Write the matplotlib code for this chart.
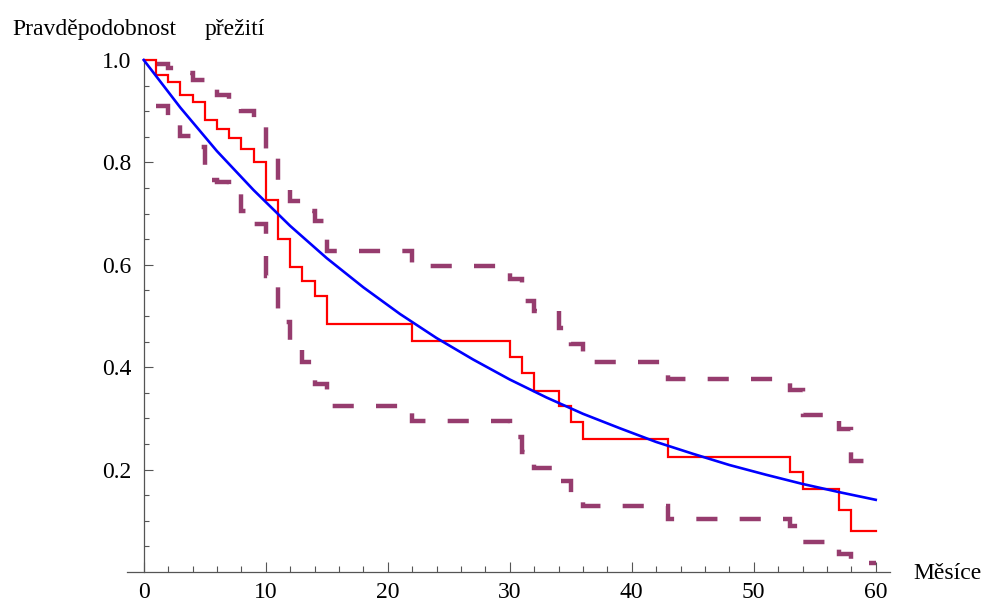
import matplotlib
matplotlib.use("Agg")
import matplotlib.pyplot as plt
from matplotlib.ticker import FixedLocator

# ---- data ----
km_times = [0, 1, 2, 3, 4, 5, 6, 7, 8, 9, 10, 11, 12, 13, 14, 15, 22, 30, 31, 32, 34, 35, 36, 43, 53, 54, 57, 58]
km_surv = [1.0, 0.971, 0.958, 0.932, 0.918, 0.883, 0.866, 0.847, 0.826, 0.801, 0.727, 0.650, 0.596,
           0.569, 0.540, 0.484, 0.452, 0.420, 0.388, 0.354, 0.325, 0.292, 0.260, 0.225, 0.195, 0.162,
           0.121, 0.081]
end_time = 60

ci_times = [1, 2, 3, 4, 5, 6, 7, 8, 9, 10, 11, 12, 13, 14, 15, 22, 30, 31, 32, 34, 35, 36, 43, 53, 54, 57, 58]
ci_upper = [0.992, 0.984, 0.975, 0.961, 0.948, 0.932, 0.915, 0.900, 0.869, 0.827, 0.766, 0.725, 0.705,
            0.686, 0.626, 0.597, 0.572, 0.530, 0.510, 0.476, 0.445, 0.411, 0.376, 0.355, 0.307, 0.280, 0.217]
ci_lower = [0.911, 0.880, 0.852, 0.830, 0.765, 0.762, 0.740, 0.705, 0.680, 0.578, 0.489, 0.439, 0.410,
            0.367, 0.324, 0.294, 0.264, 0.234, 0.203, 0.178, 0.154, 0.128, 0.103, 0.090, 0.059, 0.035, 0.017]

fit_times = [0, 3, 6, 9, 12, 15, 18, 21, 24, 27, 30, 33, 36, 39, 42, 45, 48, 51, 54, 57, 60]
fit_surv = [1.000, 0.907, 0.822, 0.746, 0.676, 0.613, 0.556, 0.504, 0.457, 0.415, 0.376, 0.341,
            0.309, 0.281, 0.254, 0.231, 0.209, 0.190, 0.172, 0.156, 0.141]

x_major = [0, 10, 20, 30, 40, 50, 60]
x_minor = [t for t in range(0, 61, 2) if t % 10 != 0]
y_major = [0.2, 0.4, 0.6, 0.8, 1.0]
y_major_labels = ["0.2", "0.4", "0.6", "0.8", "1.0"]
y_minor = [k * 0.05 for k in range(1, 20) if k % 4 != 0]

ylabel_parts = ["Pravděpodobnost", "přežití"]
xlabel = "Měsíce"

# ---- style ----
plt.rcParams['font.family'] = ['Liberation Serif', 'DejaVu Serif']
plt.rcParams['lines.scale_dashes'] = False
FS = 17
axis_col = '#555555'
purple = '#963c6e'

W, H = 983, 609
fig = plt.figure(figsize=(W / 100, H / 100), dpi=100)
ax = fig.add_axes([127.4 / W, 1 - 572 / H, (890 - 127.4) / W, 512 / H])

ax.set_xlim(-1.34, 61.17)
ax.set_ylim(0, 1.0)

dash = (0, (15.2, 16.0))
ax.step(ci_times + [end_time], ci_upper + [ci_upper[-1]], where='post', color=purple, lw=3.2,
        linestyle=dash, dash_capstyle='butt', dash_joinstyle='miter', clip_on=False, zorder=2)
ax.step(ci_times + [end_time], ci_lower + [ci_lower[-1]], where='post', color=purple, lw=3.2,
        linestyle=dash, dash_capstyle='butt', dash_joinstyle='miter', clip_on=False, zorder=2)
ax.step(km_times + [end_time], km_surv + [km_surv[-1]], where='post', color='#ff0000', lw=1.6,
        solid_joinstyle='miter', clip_on=False, zorder=3)
ax.plot(fit_times, fit_surv, color='#0000ff', lw=1.9, clip_on=False, zorder=4)

for s in ['top', 'right']:
    ax.spines[s].set_visible(False)
ax.spines['left'].set_position(('data', 0))
ax.spines['bottom'].set_position(('data', 0))
ax.spines['left'].set_bounds(0, 1.0)
for s in ['left', 'bottom']:
    ax.spines[s].set_color(axis_col)
    ax.spines[s].set_linewidth(0.9)

ax.xaxis.set_major_locator(FixedLocator(x_major))
ax.xaxis.set_minor_locator(FixedLocator(x_minor))
ax.set_xticklabels([str(v) for v in x_major])
ax.yaxis.set_major_locator(FixedLocator(y_major))
ax.yaxis.set_minor_locator(FixedLocator(y_minor))
ax.set_yticklabels(y_major_labels)

ax.tick_params(which='both', direction='in', color=axis_col, width=0.8, labelsize=FS, labelcolor='black')
ax.tick_params(axis='x', which='major', length=7.2, pad=7)
ax.tick_params(axis='x', which='minor', length=4.3)
ax.tick_params(axis='y', which='major', length=6.5, pad=9)
ax.tick_params(axis='y', which='minor', length=3.8)
ax.patch.set_visible(False)

fig.text(12 / W, 1 - 35 / H, ylabel_parts[0], fontsize=FS, ha='left', va='baseline')
fig.text(205 / W, 1 - 35 / H, ylabel_parts[1], fontsize=FS, ha='left', va='baseline')
fig.text(913 / W, 1 - 579 / H, xlabel, fontsize=FS, ha='left', va='baseline')

fig.savefig('out.png', dpi=100, facecolor='white')
